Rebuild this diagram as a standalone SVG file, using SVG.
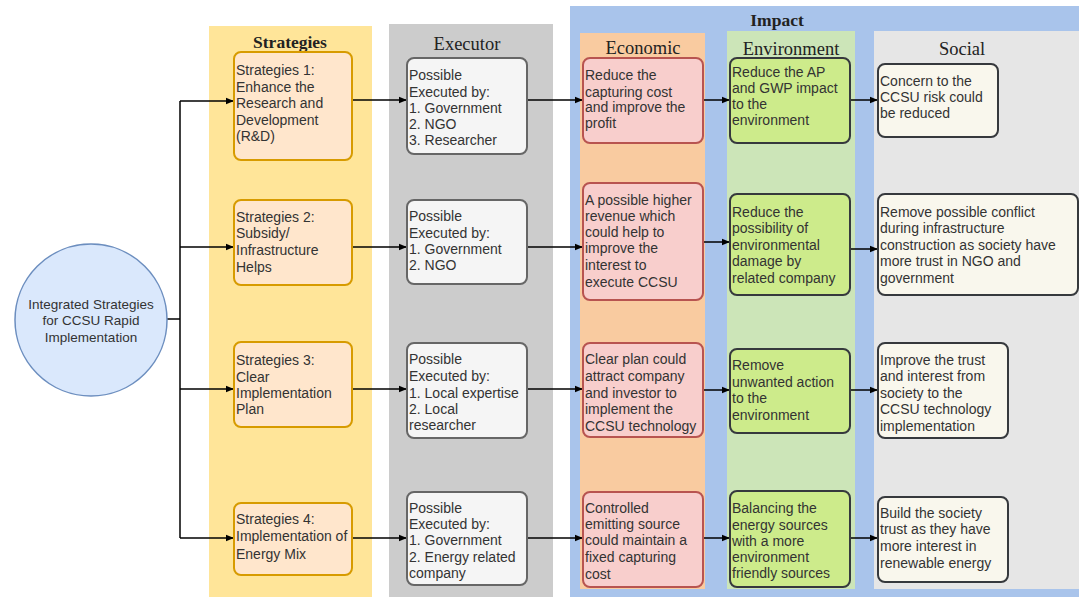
<svg xmlns="http://www.w3.org/2000/svg" width="1079" height="597" viewBox="0 0 1079 597">
<defs>
<marker id="ah" viewBox="0 0 10 10" refX="10" refY="5" markerWidth="8" markerHeight="8" markerUnits="userSpaceOnUse" orient="auto">
<path d="M0,1 L10,5 L0,9 Z" fill="#000"/>
</marker>
<style>
.t{font-family:"Liberation Sans",Arial,sans-serif;font-size:14px;fill:#333}
.ct{font-family:"Liberation Sans",Arial,sans-serif;font-size:13.5px;fill:#333;text-anchor:middle}
.h{font-family:"Liberation Serif","Times New Roman",serif;font-size:18.5px;fill:#222;text-anchor:middle}
.hb{font-family:"Liberation Serif","Times New Roman",serif;font-size:17.5px;font-weight:bold;fill:#222;text-anchor:middle}
.s{fill:#ffe6cc;stroke:#d79b00;stroke-width:2}
.e{fill:#f5f5f5;stroke:#666;stroke-width:2}
.ec{fill:#f8cecc;stroke:#b85450;stroke-width:2}
.en{fill:#cdeb8b;stroke:#36393d;stroke-width:2}
.so{fill:#f9f7ed;stroke:#36393d;stroke-width:2}
.c{fill:none;stroke:#000;stroke-width:1.5}
</style>
</defs>
<rect width="1079" height="597" fill="#fff"/>
<g id="lanes">
<rect x="209" y="26" width="163" height="571" fill="#ffe599"/>
<rect x="389" y="24" width="164" height="573" fill="#cccccc"/>
<rect x="570" y="6" width="509" height="591" fill="#a9c4eb"/>
<rect x="580" y="33" width="125" height="556" fill="#f9cba0"/>
<rect x="727" y="31" width="128" height="558" fill="#cce5b8"/>
<rect x="874" y="31" width="205" height="558" fill="#e6e6e6"/>
<text class="hb" x="290" y="48">Strategies</text>
<text class="h" x="467" y="50">Executor</text>
<text class="hb" x="777" y="26">Impact</text>
<text class="h" x="643" y="54">Economic</text>
<text class="h" x="791" y="55">Environment</text>
<text class="h" x="962" y="55">Social</text>
</g>
<g id="connectors">
<path class="c" d="M167,319 H180"/>
<path class="c" d="M180,101 V538"/>
<path class="c" d="M180,101 H234" marker-end="url(#ah)"/>
<path class="c" d="M180,247 H234" marker-end="url(#ah)"/>
<path class="c" d="M180,389 H234" marker-end="url(#ah)"/>
<path class="c" d="M180,538 H234" marker-end="url(#ah)"/>
<path class="c" d="M352,100 H407" marker-end="url(#ah)"/>
<path class="c" d="M352,247 H407" marker-end="url(#ah)"/>
<path class="c" d="M352,389 H407" marker-end="url(#ah)"/>
<path class="c" d="M352,538 H407" marker-end="url(#ah)"/>
<path class="c" d="M527,100 H583" marker-end="url(#ah)"/>
<path class="c" d="M527,247 H583" marker-end="url(#ah)"/>
<path class="c" d="M527,389 H583" marker-end="url(#ah)"/>
<path class="c" d="M527,538 H583" marker-end="url(#ah)"/>
<path class="c" d="M703,100 H730" marker-end="url(#ah)"/>
<path class="c" d="M703,242 H730" marker-end="url(#ah)"/>
<path class="c" d="M703,390 H730" marker-end="url(#ah)"/>
<path class="c" d="M703,538 H730" marker-end="url(#ah)"/>
<path class="c" d="M850,100 H878" marker-end="url(#ah)"/>
<path class="c" d="M850,249 H878" marker-end="url(#ah)"/>
<path class="c" d="M850,390 H878" marker-end="url(#ah)"/>
<path class="c" d="M850,538 H878" marker-end="url(#ah)"/>
</g>
<g id="root">
<circle cx="91" cy="320" r="76" fill="#dae8fc" stroke="#6c8ebf" stroke-width="1.5"/>
<text class="ct" x="91" y="309">Integrated Strategies</text>
<text class="ct" x="91" y="325">for CCSU Rapid</text>
<text class="ct" x="91" y="342">Implementation</text>
</g>
<g id="s1"><rect class="s" x="234" y="52" width="118" height="108" rx="7"/>
<text class="t" x="236" y="75">Strategies 1:</text><text class="t" x="236" y="91.5">Enhance the</text><text class="t" x="236" y="108">Research and</text><text class="t" x="236" y="124.5">Development</text><text class="t" x="236" y="141">(R&amp;D)</text></g>
<g id="s2"><rect class="s" x="234" y="200" width="118" height="85" rx="7"/>
<text class="t" x="236" y="221.5">Strategies 2:</text><text class="t" x="236" y="238">Subsidy/</text><text class="t" x="236" y="255">Infrastructure</text><text class="t" x="236" y="272">Helps</text></g>
<g id="s3"><rect class="s" x="234" y="342" width="118" height="85" rx="7"/>
<text class="t" x="236" y="365">Strategies 3:</text><text class="t" x="236" y="381.5">Clear</text><text class="t" x="236" y="398">Implementation</text><text class="t" x="236" y="414">Plan</text></g>
<g id="s4"><rect class="s" x="234" y="503" width="118" height="72" rx="7"/>
<text class="t" x="236" y="524">Strategies 4:</text><text class="t" x="236" y="541">Implementation of</text><text class="t" x="236" y="559">Energy Mix</text></g>
<g id="e1"><rect class="e" x="407" y="58" width="120" height="96" rx="7"/>
<text class="t" x="409" y="80">Possible</text><text class="t" x="409" y="96.5">Executed by:</text><text class="t" x="409" y="112.5">1. Government</text><text class="t" x="409" y="129">2. NGO</text><text class="t" x="409" y="145">3. Researcher</text></g>
<g id="e2"><rect class="e" x="407" y="200" width="120" height="84" rx="7"/>
<text class="t" x="409" y="221">Possible</text><text class="t" x="409" y="238">Executed by:</text><text class="t" x="409" y="254">1. Government</text><text class="t" x="409" y="270">2. NGO</text></g>
<g id="e3"><rect class="e" x="407" y="343" width="120" height="95" rx="7"/>
<text class="t" x="409" y="364">Possible</text><text class="t" x="409" y="381">Executed by:</text><text class="t" x="409" y="397.5">1. Local expertise</text><text class="t" x="409" y="414">2. Local</text><text class="t" x="409" y="430">researcher</text></g>
<g id="e4"><rect class="e" x="407" y="492" width="120" height="93" rx="7"/>
<text class="t" x="409" y="512.5">Possible</text><text class="t" x="409" y="529">Executed by:</text><text class="t" x="409" y="545">1. Government</text><text class="t" x="409" y="561.5">2. Energy related</text><text class="t" x="409" y="578">company</text></g>
<g id="ec1"><rect class="ec" x="583" y="58" width="120" height="85" rx="7"/>
<text class="t" x="585" y="80">Reduce the</text><text class="t" x="585" y="96.5">capturing cost</text><text class="t" x="585" y="111.5">and improve the</text><text class="t" x="585" y="127.5">profit</text></g>
<g id="ec2"><rect class="ec" x="583" y="183" width="120" height="117" rx="7"/>
<text class="t" x="585" y="205">A possible higher</text><text class="t" x="585" y="221">revenue which</text><text class="t" x="585" y="237">could help to</text><text class="t" x="585" y="253">improve the</text><text class="t" x="585" y="270">interest to</text><text class="t" x="585" y="286.5">execute CCSU</text></g>
<g id="ec3"><rect class="ec" x="583" y="343" width="120" height="94" rx="7"/>
<text class="t" x="585" y="364">Clear plan could</text><text class="t" x="585" y="381">attract company</text><text class="t" x="585" y="397.5">and investor to</text><text class="t" x="585" y="414">implement the</text><text class="t" x="585" y="431">CCSU technology</text></g>
<g id="ec4"><rect class="ec" x="583" y="492" width="120" height="95" rx="7"/>
<text class="t" x="585" y="512.5">Controlled</text><text class="t" x="585" y="529">emitting source</text><text class="t" x="585" y="545">could maintain a</text><text class="t" x="585" y="561.5">fixed capturing</text><text class="t" x="585" y="579">cost</text></g>
<g id="en1"><rect class="en" x="730" y="58" width="120" height="85" rx="7"/>
<text class="t" x="732" y="76.5">Reduce the AP</text><text class="t" x="732" y="93">and GWP impact</text><text class="t" x="732" y="109">to the</text><text class="t" x="732" y="125">environment</text></g>
<g id="en2"><rect class="en" x="730" y="194" width="120" height="101" rx="7"/>
<text class="t" x="732" y="216.5">Reduce the</text><text class="t" x="732" y="232.5">possibility of</text><text class="t" x="732" y="250">environmental</text><text class="t" x="732" y="266">damage by</text><text class="t" x="732" y="282.5">related company</text></g>
<g id="en3"><rect class="en" x="730" y="349" width="120" height="84" rx="7"/>
<text class="t" x="732" y="370">Remove</text><text class="t" x="732" y="386.5">unwanted action</text><text class="t" x="732" y="403">to the</text><text class="t" x="732" y="420">environment</text></g>
<g id="en4"><rect class="en" x="730" y="491" width="120" height="96" rx="7"/>
<text class="t" x="732" y="513">Balancing the</text><text class="t" x="732" y="530">energy sources</text><text class="t" x="732" y="545.5">with a more</text><text class="t" x="732" y="561.5">environment</text><text class="t" x="732" y="578">friendly sources</text></g>
<g id="so1"><rect class="so" x="878" y="64" width="120" height="73" rx="7"/>
<text class="t" x="880" y="85.5">Concern to the</text><text class="t" x="880" y="102">CCSU risk could</text><text class="t" x="880" y="118">be reduced</text></g>
<g id="so2"><rect class="so" x="878" y="194" width="200" height="101" rx="7"/>
<text class="t" x="880" y="216.5">Remove possible conflict</text><text class="t" x="880" y="232.5">during infrastructure</text><text class="t" x="880" y="250">construction as society have</text><text class="t" x="880" y="266">more trust in NGO and</text><text class="t" x="880" y="282.5">government</text></g>
<g id="so3"><rect class="so" x="878" y="343" width="130" height="95" rx="7"/>
<text class="t" x="880" y="365">Improve the trust</text><text class="t" x="880" y="381">and interest from</text><text class="t" x="880" y="397.5">society to the</text><text class="t" x="880" y="414">CCSU technology</text><text class="t" x="880" y="431">implementation</text></g>
<g id="so4"><rect class="so" x="878" y="497" width="130" height="85" rx="7"/>
<text class="t" x="880" y="517.5">Build the society</text><text class="t" x="880" y="534">trust as they have</text><text class="t" x="880" y="551">more interest in</text><text class="t" x="880" y="567.5">renewable energy</text></g>
</svg>
